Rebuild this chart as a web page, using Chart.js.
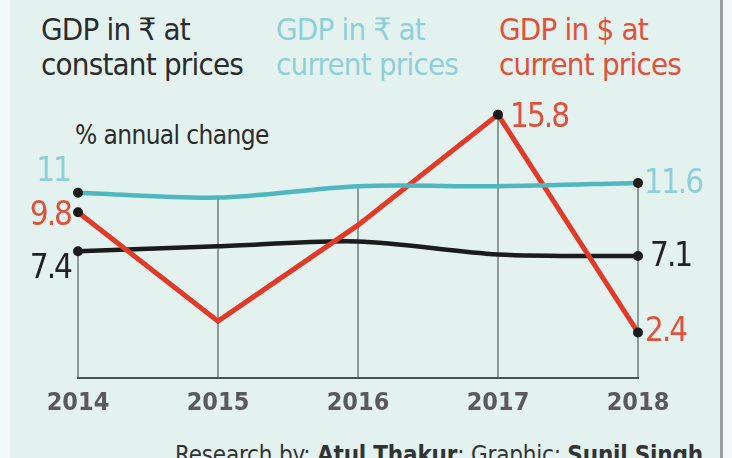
<!DOCTYPE html>
<html>
<head>
<meta charset="utf-8">
<script src="https://cdn.jsdelivr.net/npm/chart.js@4/dist/chart.umd.min.js"></script>
<style>
  html,body{margin:0;padding:0;}
  body{width:732px;height:458px;overflow:hidden;position:relative;background:#e3f2ee;
       font-family:"DejaVu Sans Condensed","DejaVu Sans",sans-serif;font-stretch:condensed;}
  #edgeL{position:absolute;left:0;top:0;width:10px;height:458px;background:#f3f9f8;}
  #edgeR{position:absolute;left:720px;top:0;width:3px;height:458px;background:#9a9e9e;}
  #edgeR2{position:absolute;left:723px;top:0;width:9px;height:458px;background:#f4f7f7;}
  .hd{position:absolute;font-size:31px;line-height:35px;letter-spacing:-0.8px;white-space:nowrap;}
  #h1{left:41px;top:12px;color:#2b2b2b;}
  #h2{left:276px;top:12px;color:#8fcfd8;}
  #h3{left:499px;top:12px;color:#e0503a;}
  #sub{position:absolute;left:75px;top:120px;font-size:26px;color:#2b2b2b;letter-spacing:-0.6px;white-space:nowrap;}
  #foot{position:absolute;left:175px;top:441px;font-size:24px;color:#333;white-space:nowrap;letter-spacing:-0.2px;}
  #wrap{position:absolute;left:0;top:0;width:732px;height:458px;}
</style>
</head>
<body>
<div id="edgeL"></div>
<div id="edgeR"></div>
<div id="edgeR2"></div>
<div id="h1" class="hd">GDP in ₹ at<br>constant prices</div>
<div id="h2" class="hd">GDP in ₹ at<br>current prices</div>
<div id="h3" class="hd">GDP in $ at<br>current prices</div>
<div id="sub">% annual change</div>
<div id="foot">Research by: <b>Atul Thakur</b>; Graphic: <b>Sunil Singh</b></div>
<div id="wrap"><canvas id="c" width="732" height="458"></canvas></div>
<script>
// ---- data ----
const years = ["2014", "2015", "2016", "2017", "2018"];
const gdpRupeeConstant = [7.4, 7.7, 8.0, 7.2, 7.1];
const gdpRupeeCurrent  = [11.0, 10.7, 11.4, 11.4, 11.6];
const gdpDollarCurrent = [9.8, 3.1, 9.0, 15.8, 2.4];

// ---- styling ----
const TEAL = "#4fb7bf", RED = "#e23a28", BLACK = "#1b1b1b";
const FONT = "'DejaVu Sans Condensed','DejaVu Sans',sans-serif";

// which labels to show and where, relative to the point
const labelSpecs = [
  {ds:0, idx:0, align:"right", dx:-8, dy:-20, color:"#8fcfd8"},
  {ds:0, idx:4, align:"left",  dx:6,  dy:2,  color:"#8fcfd8"},
  {ds:1, idx:0, align:"right", dx:-7, dy:4,  color:"#e0503a"},
  {ds:1, idx:3, align:"left",  dx:12, dy:4,  color:"#e0503a"},
  {ds:1, idx:4, align:"left",  dx:7,  dy:0,  color:"#e0503a"},
  {ds:2, idx:0, align:"right", dx:-7, dy:18, color:"#222"},
  {ds:2, idx:4, align:"left",  dx:12, dy:1,  color:"#222"}
];

const dropLines = {
  id: "dropLines",
  beforeDatasetsDraw(chart) {
    const {ctx, chartArea, scales} = chart;
    const x = scales.x, y = scales.y;
    ctx.save();
    ctx.strokeStyle = "#5f6b6b";
    ctx.lineWidth = 1.3;
    years.forEach((yr, i) => {
      const top = i === 0 ? gdpRupeeConstant[0]
        : Math.max(gdpRupeeConstant[i], gdpRupeeCurrent[i], gdpDollarCurrent[i]);
      const px = x.getPixelForValue(i);
      ctx.beginPath();
      ctx.moveTo(px, y.getPixelForValue(top));
      ctx.lineTo(px, chartArea.bottom);
      ctx.stroke();
    });
    ctx.strokeStyle = "#4a5252";
    ctx.lineWidth = 2.2;
    ctx.beginPath();
    ctx.moveTo(x.getPixelForValue(0) - 1, chartArea.bottom);
    ctx.lineTo(x.getPixelForValue(years.length - 1) + 1, chartArea.bottom);
    ctx.stroke();
    ctx.restore();
  }
};

const valueLabels = {
  id: "valueLabels",
  afterDatasetsDraw(chart) {
    const {ctx} = chart;
    ctx.save();
    ctx.font = "33px " + FONT;
    ctx.textBaseline = "middle";
    try { ctx.letterSpacing = "-2px"; } catch(e) {}
    labelSpecs.forEach(s => {
      const el = chart.getDatasetMeta(s.ds).data[s.idx];
      const v = chart.data.datasets[s.ds].data[s.idx];
      const txt = Number.isInteger(v) ? String(v) : v.toFixed(1);
      ctx.fillStyle = s.color;
      ctx.textAlign = s.align;
      ctx.fillText(txt, el.x + s.dx, el.y + s.dy);
    });
    ctx.restore();
  }
};

new Chart(document.getElementById("c"), {
  type: "line",
  data: {
    labels: years,
    datasets: [
      {label: "GDP in ₹ at current prices", data: gdpRupeeCurrent, borderColor: TEAL, borderWidth: 4.5,
       tension: 0.3, pointRadius: [5,0,0,0,5], pointBackgroundColor: BLACK, pointBorderWidth: 0},
      {label: "GDP in $ at current prices", data: gdpDollarCurrent, borderColor: RED, borderWidth: 5,
       tension: 0, pointRadius: [5,0,0,5,5], pointBackgroundColor: BLACK, pointBorderWidth: 0},
      {label: "GDP in ₹ at constant prices", data: gdpRupeeConstant, borderColor: BLACK, borderWidth: 4.5,
       tension: 0.3, pointRadius: [5,0,0,0,5], pointBackgroundColor: BLACK, pointBorderWidth: 0}
    ]
  },
  options: {
    responsive: false,
    animation: false,
    devicePixelRatio: 1,
    layout: {padding: {left: 78, right: 94, top: 100, bottom: 40}},
    plugins: {legend: {display: false}, tooltip: {enabled: false}},
    scales: {
      x: {
        offset: false,
        grid: {display: false, drawTicks: false},
        border: {display: false},
        ticks: {color: "#5a5a5a", padding: 10, font: {family: FONT, size: 25, weight: "bold"}, maxRotation: 0, autoSkip: false},
        afterFit(s) { s.height = 40; }
      },
      y: {display: false, min: -0.4, max: 16.7}
    }
  },
  plugins: [dropLines, valueLabels]
});
</script>
</body>
</html>
